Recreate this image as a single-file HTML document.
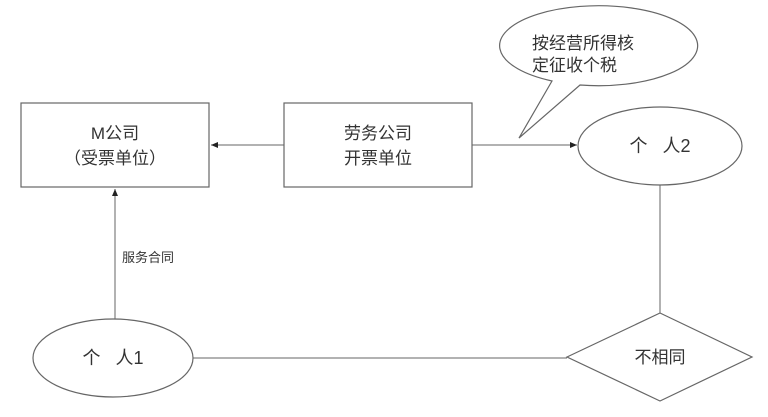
<!DOCTYPE html>
<html><head><meta charset="utf-8"><style>
html,body{margin:0;padding:0;background:#fff;width:768px;height:417px;overflow:hidden}
svg text{font-family:"Liberation Sans","Noto Sans CJK SC",sans-serif;fill:#333}
</style></head><body>
<svg width="768" height="417" viewBox="0 0 768 417" xmlns="http://www.w3.org/2000/svg">
<defs><marker id="a" markerWidth="8" markerHeight="8" refX="7" refY="4" orient="auto" markerUnits="userSpaceOnUse"><path d="M0,1 L7,4 L0,7 z" fill="#222"/></marker></defs>
<g stroke="#666" stroke-width="1.2" fill="#fff">
<rect x="21" y="103" width="188" height="84"/>
<rect x="284" y="103" width="188" height="84"/>
<ellipse cx="660" cy="146" rx="82" ry="39"/>
<ellipse cx="113" cy="358" rx="80" ry="39"/>
<polygon points="567,357 660,313 752,357 660,401"/>
<path d="M552,81 L519,138 L580,85 A99,40 0 1 0 552,81 Z" />
</g>
<g stroke="#666" stroke-width="1" fill="none">
<line x1="284" y1="145" x2="211" y2="145" marker-end="url(#a)"/>
<line x1="472" y1="145" x2="577" y2="145" marker-end="url(#a)"/>
<line x1="115" y1="319" x2="115" y2="189" marker-end="url(#a)"/>
<line x1="193" y1="358" x2="567" y2="358"/>
<line x1="660" y1="185" x2="660" y2="313"/>
</g>
<g font-size="17" text-anchor="middle">
<text x="115" y="139">M公司</text>
<text x="115" y="164">（受票单位）</text>
<text x="378" y="139">劳务公司</text>
<text x="378" y="164">开票单位</text>
<text x="660" y="152" font-size="18" xml:space="preserve">个   人2</text>
<text x="113" y="364" font-size="18" xml:space="preserve">个   人1</text>
<text x="660" y="363">不相同</text>
</g>
<text x="532" y="49" font-size="17">按经营所得核</text>
<text x="532" y="71" font-size="17">定征收个税</text>
<text x="122" y="262" font-size="13">服务合同</text>
</svg>
</body></html>
